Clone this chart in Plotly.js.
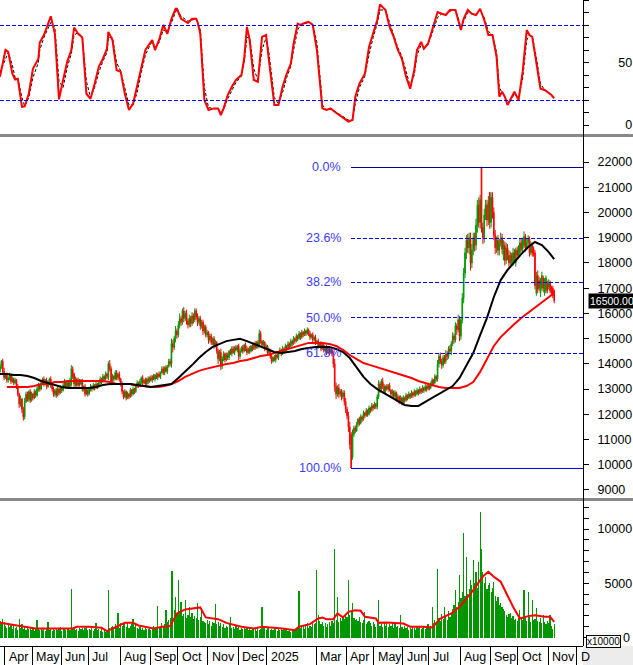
<!DOCTYPE html>
<html><head><meta charset="utf-8">
<script src="https://cdn.plot.ly/plotly-3.0.1.min.js"></script>
<style>html,body{margin:0;padding:0;background:#fff}#chart{width:633px;height:665px}</style>
</head><body><div id="chart"></div>
<script>
// ---------- DATA ----------
// month labels on the date strip and the trading-day index of each month's first session
const monthLabels = ["Apr","May","Jun","Jul","Aug","Sep","Oct","Nov","Dec","2025","Mar","Apr","May","Jun","Jul","Aug","Sep","Oct","Nov","D"];
const monthStartDay = [4,24,45,65,88,110,130,152,174,195,231,253,273,294,313,336,358,378,400,421];

// daily open / close prices, in hundreds of VND
const openH = [
137,139,141,137,134.5,135.5,133.5,134,135.5,133,
134,132.5,133.5,131,128,124,126,122,119,125,
128,126,129,125.5,128,126.5,129,127.5,130,131.5,
130,132.5,134,132,133.5,131,132.5,134,131.5,130,
128,129.5,127.5,130,128.5,130.5,129.5,131.5,133,131,
132.5,131,132,138,136,132,134,131.5,133.5,132,
133,130,131,128,129.5,128,130,131,130,131.5,
130.5,132,131,132.5,134,133,135,134,136,134.5,
140,138,133,135,134,136.5,134.5,136,134,132,
129,127,129,126.5,128,127,129.5,128,130,129,
131,132.5,131.5,133,134.5,132.5,133.5,132,134,133,
134.5,133.5,135,134,135.5,134.5,136,135,136.5,138,
136.5,138.5,137,139,141,140,148,146.5,150,153,
151.5,155.5,158,156.5,161,158,160,157,155.5,158,
156,159,157.5,161,158.5,156.5,158,155,156.5,153,
154.5,151.5,152.5,149.5,151,148.5,150,147.5,148.5,145,
142,144.5,139,142,144,141.5,143.5,142.5,145,144,
146,144.5,146.5,145.5,147,143,145,146.5,145,147.5,
146,144.5,146,145,147,146,148,146.5,148.5,147,
152,149,147.5,148.5,146,147,144.5,145.5,143,141,
142.5,141.5,143.5,142.5,144.5,145.5,144,146,145,147,
146,148,147,149,148,150,149,151,150,152,
150.5,152.5,151.5,153,152,153.5,152,150.5,151.5,149.5,
150.5,148.5,149,147,148,146,147.5,145.5,146.5,144.5,
146,144.5,145.5,144,140,131,128,130.5,128,129,
127,128.5,125,122,119.5,115,112,103,112,114.5,
113.5,116,118,116.5,119,118,120.5,119.5,121.5,120,
122.5,121.5,123.5,122.5,124,123,127,132,130,133,
131,129,131,130,131.5,129.5,128,129,127,128.5,
126,127,125,126.5,124.5,126.5,125.5,127.5,126.5,128,
127,128.5,127.5,129,128,129.5,128.5,130,129,130.5,
129.5,131,130,131.5,130.5,132,133.5,132.5,135,134,
140,143,141,139.5,142.5,141,144,143,146,145,
148,151,149.5,155,153.5,157.5,151,157.5,166,176,
184,189,186,190,180,185,190,187,195,203,
196,218,194,190,199,203,197,208,196,206,
200,191,186,189,185,188,190,183,187,181,
186,183,180,183,180,184,180,185,183,184,
188,185.5,187,190.5,186,188,189.5,184,187,185.5,
184,168,175,173,168,170,174,168,169,172,
170.5,172,170,170,169];
const closeH = [
139,141,137,134.5,135.5,133.5,134.5,135.5,133,134,
132.5,133.5,131,128,124,126,122,119,125,128,
126,129,125.5,128,126.5,129,127.5,130,131.5,130,
132.5,134,132,133.5,131,132.5,134,131.5,130,128,
129.5,127.5,130,128.5,130.5,129.5,131.5,133,131,132.5,
131,133.5,138,135,132,134,131.5,133.5,132,133,
130,131,128,129.5,128,130,131,130,131.5,130.5,
132,131,132.5,134,133,135,134,136,135,140,
138,133,135,134,136.5,134.5,136,134,132,129,
127,129,126.5,128,127,129.5,128,130,129,131,
132.5,131.5,133,134.5,132.5,133.5,132,134,133,134.5,
133.5,135,134,135.5,134.5,136,135,136.5,138,136.5,
138.5,137,139,141,140,148,146.5,150,153,151.5,
155.5,158,156.5,161,158,160,157,155.5,158,156,
159,157.5,161,158.5,156.5,158,155,156.5,153,154.5,
151.5,152.5,149.5,151,148.5,150,147.5,148.5,145,142,
144.5,139,142,144,141.5,143.5,142.5,145,144,146,
144.5,146.5,145.5,147,143,145,146.5,145,147.5,146,
144.5,146,145,147,146,148,146.5,148.5,147,152,
149,147.5,148.5,146,147,144.5,145.5,143,141,142.5,
141.5,143.5,142.5,144.5,145.5,144,146,145,147,146,
148,147,149,148,150,149,151,150,152,150.5,
152.5,151.5,153,152,153.5,152,150.5,151.5,149.5,150.5,
148.5,149,147,148,146,147.5,145.5,146.5,144.5,146,
144.5,145.5,144,140,131,128,130.5,128,129,127,
128.5,125,122,119.5,115,108,98.7,112,114.5,113.5,
116,118,116.5,119,118,120.5,119.5,121.5,120,122.5,
121.5,123.5,122.5,124,123,127,132,130,133,131,
129,131,130,131.5,129.5,128,129,127,128.5,126,
127,125,126.5,124.5,126.5,125.5,127.5,126.5,128,127,
128.5,127.5,129,128,129.5,128.5,130,129,130.5,129.5,
131,130,131.5,130.5,132,133.5,132.5,135,134,140,
143,141,139.5,142.5,141,144,143,146,145,148,
151,149.5,155,153.5,157.5,151,157.5,166,176,184,
189,186,190,180,185,190,187,195,203,196,
205,194,190,199,203,197,204,196,206,200,
191,186,189,185,188,190,185.5,187,181,186,
183,180,183,181,184,182,185,183,186,188,
185.5,189,190.5,186,188,189.5,184,187,184,183.5,
171,175,169.5,170,173,175,170,172.5,174,169,
172.5,169,168,167,165];
// upper and lower shadow lengths of each candle, in hundreds of VND
const upperShadowH = [
1,0.5,1,1.5,0.5,1,0.5,1,0.5,1,
0.5,1,0.5,1,0.5,1.5,0.5,1,1.5,1,
1,0.5,1,1,0.5,1,0.5,1,1,0.5,
1,0.5,1,0.5,1,1,0.5,1,0.5,1,
0.5,1,1,0.5,1,0.5,1,1,0.5,1,
0.5,1,1.5,1,0.5,1,0.5,1,0.5,1,
1,0.5,1,0.5,1,0.5,1,0.5,1,0.5,
1,0.5,1,1,0.5,1,0.5,1,0.5,1,
1.5,1,1,0.5,1,1,0.5,1,0.5,1,
0.5,1,0.5,1,0.5,1,0.5,1,0.5,1,
1,0.5,1,0.5,1,0.5,1,0.5,1,0.5,
1,0.5,1,0.5,1,0.5,1,0.5,1,1,
0.5,1,0.5,1,1,2,1.5,1,2,1,
1.5,2,1,1,1.5,1,1.5,1,1.5,1,
1.5,1,1,1,1.5,1,1,1,1,1,
1,1,0.5,1,1,0.5,1,1,0.5,1,
1,1.5,1,1,0.5,1,1,0.5,1,1,
1,0.5,1,0.5,1,1,0.5,1,0.5,1,
1,0.5,1,0.5,1,0.5,1,0.5,1,1.5,
1,0.5,1,0.5,1,0.5,1,0.5,1,0.5,
1,0.5,1,0.5,1,0.5,1,0.5,1,0.5,
1,0.5,1,0.5,1,0.5,1,0.5,1,0.5,
1,0.5,1,0.5,1,0.5,1,0.5,1,0.5,
1,0.5,1,0.5,1,0.5,1,0.5,1,0.5,
1,0.5,1,1,2,1.5,1,1.5,1,1,
1,1,1.5,1,1.5,2,1,2,1,1,
1,0.5,1,1,0.5,1,0.5,1,0.5,1,
0.5,1,0.5,1,0.5,1,1.5,1,1,1.5,
1,0.5,1,0.5,1,0.5,1,0.5,1,0.5,
1,0.5,1,0.5,1,0.5,1,0.5,1,0.5,
1,0.5,1,0.5,1,0.5,1,0.5,1,0.5,
1,0.5,1,0.5,1,1,0.5,1,0.5,1.5,
1,1.5,1,1,1,1.5,1,1,1.5,1,
1.5,1,1.5,1,2,1.5,1,2,2,2,
2,2.5,2,2,2.5,2,2,2.5,2,3,
2,0,2,2.5,2,2,2.5,0,2,2,
2,2,1.5,2,1.5,2,1.5,2,1.5,2,
1.5,2,1.5,1,2,1.5,1,1.5,1,1.5,
1.5,1,2,1,1.5,1.5,1,1.5,1,1,
1,1.5,2,1.5,1,1.5,1,1.5,1,1,
1,1,1,1,0.5];
const lowerShadowH = [
0.5,1,1,1,0.5,1,1,0.5,1,0.5,
1,0.5,1,1,1.5,1,1.5,1.5,1,0.5,
1,1,1,0.5,1,0.5,1,0.5,1,1,
0.5,1,1,0.5,1,0.5,1,1,1,1,
1,1,0.5,1,0.5,1,0.5,1,1,0.5,
1,0.5,1,1,1.5,1,1,0.5,1,0.5,
1,1,1,0.5,1,0.5,1,1,0.5,1,
0.5,1,0.5,1,1,0.5,1,0.5,1,1,
1,1.5,1,1,0.5,1,1,1,1,1,
1,0.5,1,0.5,1,0.5,1,0.5,1,0.5,
0.5,1,0.5,1,1,0.5,1,0.5,1,0.5,
0.5,1,0.5,1,0.5,1,0.5,1,0.5,1,
1,0.5,1,0.5,1,1.5,2,1,1.5,1.5,
1,1.5,1.5,1,1.5,1,1.5,1.5,1,1.5,
1,1.5,1,1,1.5,1,1.5,1,1.5,1,
1,1,1.5,1,1,1,1.5,1,1,2,
1,1.5,1,1,1,0.5,1,1,0.5,1,
0.5,1,0.5,1,1.5,1,0.5,1,0.5,1,
1,0.5,1,0.5,1,0.5,1,0.5,1,0.5,
1,1,0.5,1,0.5,1,0.5,1,1,0.5,
0.5,1,0.5,1,0.5,1,0.5,1,0.5,1,
0.5,1,0.5,1,0.5,1,0.5,1,0.5,1,
0.5,1,0.5,1,0.5,1,1,0.5,1,0.5,
1,0.5,1,0.5,1,0.5,1,0.5,1,0.5,
1,0.5,1,1.5,2,2,1,1.5,1,1.5,
1,1.5,1.5,1.5,2,2,0,1,1,1,
0.5,1,1,0.5,1,0.5,1,0.5,1,0.5,
1,0.5,1,0.5,1,1,1,1.5,1,1,
1,1,0.5,1,0.5,1,1,0.5,1,1,
0.5,1,0.5,1,0.5,1,0.5,1,0.5,1,
0.5,1,0.5,1,0.5,1,0.5,1,0.5,1,
0.5,1,0.5,1,0.5,1,1,0.5,1,1,
1.5,1,1.5,1,1,1,1.5,1,1,1.5,
1,1.5,1,2,1,2,1.5,1.5,2,2,
2.5,2,2.5,3,2,2,2.5,2,3,2,
2.5,2,2.5,2,2,2.5,2,2.5,2,2.5,
2,2.5,2,2,2,1.5,2,2,2,1.5,
2,1.5,1,2,1,1.5,1.5,1,1.5,1,
1,1.5,1,1.5,1,1,1.5,1,1.5,1,
1.5,1,1.5,1,1.5,1,1.5,1,1,1,
1,1,1,1,1];

// daily volume, in units of 10000 shares
const volume = [
1500,1200,1700,1400,1100,900,1300,1000,1200,800,
1100,900,1000,700,1660,900,1200,800,1000,700,
900,800,1000,700,850,600,900,1600,800,700,
800,650,900,600,750,1450,700,850,600,800,
700,900,650,800,1000,600,750,900,700,850,
800,700,4460,900,1000,700,800,600,900,750,
850,700,900,1100,650,800,700,900,600,800,
1350,700,800,600,750,500,650,550,600,4370,
900,1000,1100,800,1200,1000,2215,900,1300,1100,
1200,1450,1000,1300,900,1100,1200,1750,1000,1200,
900,800,1000,700,850,650,900,750,800,1000,
700,900,1100,800,1000,2900,900,1100,1300,1000,
1200,2520,1400,1600,1800,6120,6120,2500,3750,2200,
5290,2400,3290,2000,2200,3450,1800,2100,2830,1900,
2300,1700,2000,1800,3140,1600,1900,2520,1500,1400,
1300,1600,1200,1500,1100,1400,1300,3080,1200,1400,
1100,1300,1000,1200,900,1100,1000,1200,1900,900,
1000,800,1100,900,1000,700,900,800,1000,750,
850,700,900,650,800,750,900,600,850,700,
800,2770,900,1000,700,850,900,650,800,700,
750,900,600,800,700,850,650,800,700,900,
600,700,550,650,700,600,800,750,4310,900,
1000,1100,800,1200,1300,900,1100,1000,1400,1200,
1300,6215,2060,1500,1200,1400,1100,1300,1000,1200,
1400,1100,1500,1300,8120,1600,3750,1400,1800,1500,
2000,1700,2200,1900,5290,2100,2400,3140,1800,1600,
1700,1500,1900,1400,1300,1600,2370,1200,1400,1500,
1300,1100,1400,1200,1000,1300,3450,1100,1200,1000,
1300,1100,1400,1000,1200,1100,1300,900,1200,1000,
1100,900,2060,1000,800,1100,900,1000,700,900,
800,1000,900,700,1100,850,1000,750,900,1100,
800,950,1200,900,1100,2830,1300,1600,1400,6280,
1800,1500,2200,1700,2830,2000,1600,2400,1900,2200,
2600,3000,4370,2800,3300,5750,3600,4200,9600,3800,
7450,4000,4500,5290,4800,7140,5000,6060,4600,6980,
11600,8120,6060,5000,5600,4500,4800,4980,4200,4600,
5140,3800,3400,3750,3000,3200,2830,2600,2400,2060,
1900,2200,2215,1800,2000,1600,1700,1500,1800,2520,
1700,1600,4370,1800,1500,4220,1900,1400,3450,1600,
1700,2680,1500,1400,1800,1300,2060,1400,1200,1500,
1300,2060,1100,830,1200];

// moving averages (black = short MA, red = long MA)
const maBlackDay = [0,5,10,15,20,25,30,35,40,45,50,55,60,65,70,75,80,85,90,95,100,105,110,115,120,125,130,135,140,145,150,155,160,165,170,175,180,185,190,195,200,205,210,215,220,225,230,235,240,245,250,255,260,265,270,275,280,285,290,295,300,305,310,315,320,325,330,335,340,345,350,355,360,365,370,375,380,385,390,395,400,404];
const maBlack = [13600,13600,13560,13560,13520,13440,13320,13240,13160,13080,13040,13040,13040,13040,13080,13160,13200,13200,13200,13200,13160,13120,13080,13120,13160,13200,13440,13680,13950,14230,14470,14670,14790,14900,14950,14990,14900,14790,14670,14550,14470,14430,14470,14510,14590,14630,14670,14670,14670,14590,14470,14230,13840,13480,13200,13000,12840,12690,12530,12370,12330,12330,12490,12650,12800,12960,13120,13440,13910,14430,15140,15820,16650,17320,17720,18040,18350,18630,18830,18710,18430,18150];
const maRedDay = [5,10,15,20,25,30,35,40,45,50,55,60,65,70,75,80,85,90,95,100,105,110,115,120,125,130,135,140,145,150,155,160,165,170,175,180,185,190,195,200,205,210,215,220,225,230,235,240,245,250,255,260,265,270,275,280,285,290,295,300,305,310,315,320,325,330,335,340,345,350,355,360,365,370,375,380,385,390,395,400,404];
const maRed = [13080,13080,13080,13080,13120,13200,13200,13280,13280,13320,13320,13320,13320,13320,13320,13280,13200,13200,13200,13120,13120,13080,13080,13120,13200,13320,13480,13600,13720,13800,13870,13950,13990,14030,14110,14150,14230,14310,14350,14430,14510,14590,14670,14750,14830,14830,14830,14790,14710,14550,14350,14190,14030,13950,13870,13760,13680,13600,13520,13440,13320,13240,13160,13080,13040,13040,13040,13120,13280,13680,14190,14710,15060,15340,15580,15820,16020,16250,16450,16650,16810];

// volume moving average
const volMaDay = [0,9,18,26,44,53,56,65,74,78,85,91,97,101,112,118,124,129,135,143,146,150,159,165,176,185,191,206,215,218,226,232,235,238,243,246,250,254,259,263,266,274,276,282,294,299,309,315,321,329,335,341,346,350,353,356,360,365,369,374,379,385,390,397,401,404];
const volMa = [1350,1140,990,830,830,830,990,990,890,590,990,1350,1350,1110,830,990,1050,2220,2590,2680,2770,1850,1690,1350,990,830,990,830,680,990,1230,1750,1850,1690,1690,2220,1850,2370,2520,2460,1910,1750,1350,1390,1290,990,990,920,1750,2220,2830,3750,4520,5290,5750,6060,5600,5140,4060,2830,1750,1970,2060,1910,1910,1450];

// stochastic oscillator (%K red, %D black dashed)
const stochDay = [0,4,6,9,11,13,16,18,21,24,28,29,32,37,40,43,46,49,52,54,57,60,63,66,69,72,75,78,79,82,85,88,91,94,97,100,103,106,109,111,113,116,119,122,125,128,129,132,137,140,143,144,146,149,152,156,159,161,163,166,169,172,176,178,180,182,185,188,191,194,196,198,200,203,206,209,212,214,217,219,222,225,228,231,234,235,238,241,244,247,251,254,257,259,262,266,269,272,275,277,281,284,287,290,293,296,299,302,304,307,309,312,315,319,322,325,328,332,334,336,338,341,344,347,350,353,356,359,362,364,366,368,370,372,375,378,381,384,386,388,391,394,397,399,402,404];
const stochK = [38.6,60,58.5,41,36.4,37,14.6,15,25,45,53,66,72,87,73,20.5,36,50.5,60,78,73,70,25,21,33,46.5,53,61,74.5,68,44,42.5,25,12,17,30.6,46.5,60,65,68,60,68,80,73,85,93,93,85,81.6,85,85,82.5,73,20,12,13.3,13.3,8,13.3,24,30.6,36,40,53,78.5,68,36,34.6,70.5,72,52,36,16,16,30.6,41,49,65,81,80,81.6,82.5,80,60,22.6,13.3,12,13.3,10.6,8,5.3,2.7,4,22.6,33,41,62.5,73,84,96.5,92,78.5,70.5,60,53,38.6,29,44,60,66.5,61,65,76,90.4,89,88,92,92,84,76,85,92,89,88,93,84,72,72,54.5,22.6,26.6,22.6,16,20,26.6,20,42.5,76,72,70.5,49,29,28,26.6,24,21.3];
const stochD = [42,52,58,48,38,37,22,15,22,38,50,60,70,82,78,35,30,46,57,72,74,70,35,22,30,42,51,58,70,70,50,43,30,16,16,26,42,56,63,67,62,66,76,75,82,91,93,87,83,84,85,83,76,30,14,13,13,10,12,21,28,34,39,50,70,70,45,36,60,70,58,40,22,17,26,38,47,60,76,80,81,82,81,66,30,16,12,13,11,9,6,4,4,17,30,39,56,70,81,92,92,82,73,62,55,42,31,40,56,64,62,64,73,86,89,88,91,92,86,78,83,90,89,88,92,86,75,72,58,30,26,23,17,19,25,21,37,68,72,71,54,33,28,27,24,22];
const stochLevels = [20, 80];
const stochTicks = [0,10,20,30,40,50,60,70,80,90,100];
const stochTickLabels = ["0","","","","","50","","","","",""];
const volTicks = [0,1000,2000,3000,4000,5000,6000,7000,8000,9000,10000,11000,12000];
const volTickLabels = ["0","","","","","5000","","","","","10000","",""];
const volUnitLabel = "x10000";
const fibRatios = [0, 0.236, 0.382, 0.5, 0.618, 1];
const fibLabels = ["0.0%","23.6%","38.2%","50.0%","61.8%","100.0%"];

// ---------- BUILD ----------
const GREEN = "#009600", RED = "#ff0000", FIBBLUE = "#3c3cff";
const FONT = "Liberation Sans, Arial, sans-serif";
const open = openH.map(v => v * 100);
const close = closeH.map(v => v * 100);
const high = open.map((o, i) => Math.max(o, close[i]) + upperShadowH[i] * 100);
const low = open.map((o, i) => Math.min(o, close[i]) - lowerShadowH[i] * 100);
const days = open.map((_, i) => i);
const volDays = volume.map((_, i) => i);
const X_MAX = 425;
const DASH = "4px,2px";

const hi = Math.max(...high), lo = Math.min(...low);
const loDay = low.indexOf(lo);
const lastClose = close[close.length - 1];
const pad5 = s => "\u00a0".repeat(2 * Math.max(0, 5 - s.length)) + s;

const traces = [
  {type:"scatter", mode:"lines", x:stochDay, y:stochD, xaxis:"x", yaxis:"y",
   line:{color:"#000", width:1, dash:"3px,2px"}, hoverinfo:"skip"},
  {type:"scatter", mode:"lines", x:stochDay, y:stochK, xaxis:"x", yaxis:"y",
   line:{color:RED, width:2}, hoverinfo:"skip"},
  {type:"candlestick", x:days, open:open, high:high, low:low, close:close, xaxis:"x", yaxis:"y2",
   increasing:{line:{color:GREEN, width:1}, fillcolor:GREEN},
   decreasing:{line:{color:RED, width:1}, fillcolor:RED}, whiskerwidth:0, hoverinfo:"skip"},
  {type:"scatter", mode:"lines", x:maRedDay, y:maRed, xaxis:"x", yaxis:"y2",
   line:{color:RED, width:2}, hoverinfo:"skip"},
  {type:"scatter", mode:"lines", x:maBlackDay, y:maBlack, xaxis:"x", yaxis:"y2",
   line:{color:"#000", width:2}, hoverinfo:"skip"},
  {type:"bar", x:volDays, y:volume, xaxis:"x", yaxis:"y3", width:0.85,
   marker:{color:GREEN, line:{width:0}}, hoverinfo:"skip"},
  {type:"scatter", mode:"lines", x:volMaDay, y:volMa, xaxis:"x", yaxis:"y3",
   line:{color:RED, width:2}, hoverinfo:"skip"}
];

const H = 646; // plot-area height in px (665 - bottom margin 19)
const py = px => (H - px) / H; // px from top of plot area -> paper y
const PX_W = 583;
const tickFont = {family:FONT, size:12.5, color:"#000"};

const shapes = [];
stochLevels.forEach(v => shapes.push({type:"line", xref:"paper", x0:0, x1:1, yref:"y", y0:v, y1:v,
  line:{color:"#0000ff", width:1, dash:DASH}}));
fibRatios.forEach((r) => {
  const lvl = hi - (hi - lo) * r;
  const solid = (r === 0 || r === 1);
  shapes.push({type:"line", xref:"x", x0:loDay, x1:X_MAX, yref:"y2", y0:lvl, y1:lvl,
    line:{color: r === 0 ? "#00008c" : "#0000ff", width:1, dash: solid ? "solid" : DASH}});
});
shapes.push({type:"rect", xref:"paper", x0:0, x1:640/PX_W, yref:"paper", y0:py(136.5), y1:py(133.5),
  fillcolor:"#8a8a8a", line:{width:0}});
shapes.push({type:"rect", xref:"paper", x0:0, x1:640/PX_W, yref:"paper", y0:py(501), y1:py(498),
  fillcolor:"#8a8a8a", line:{width:0}});
shapes.push({type:"line", xref:"paper", x0:1, x1:1, yref:"paper", y0:0, y1:1, line:{color:"#000", width:1}});
shapes.push({type:"rect", xref:"paper", x0:1, x1:640/PX_W, yref:"paper", y0:py(665), y1:0,
  fillcolor:"#ececec", line:{width:0}});
shapes.push({type:"line", xref:"paper", x0:0, x1:1, yref:"paper", y0:0, y1:0, line:{color:"#000", width:1}});

const annotations = [];
monthLabels.forEach((m, i) => annotations.push({xref:"x", x:monthStartDay[i] - 0.5, xanchor:"left", xshift:2,
  yref:"paper", y:py(657), yanchor:"middle", text:m, showarrow:false, font:tickFont}));
fibRatios.forEach((r, i) => annotations.push({xref:"x", x:loDay, xanchor:"right", xshift:-8,
  yref:"y2", y:hi - (hi - lo) * r, yanchor:"middle", text:fibLabels[i], showarrow:false,
  font:{family:FONT, size:12.5, color:FIBBLUE}}));
annotations.push({xref:"paper", x:588/PX_W, xanchor:"left", yref:"y2", y:lastClose, yanchor:"middle",
  text:lastClose.toFixed(2), showarrow:false, bgcolor:"#000", borderpad:1,
  font:{family:FONT, size:10.5, color:"#fff"}});
annotations.push({xref:"paper", x:586/PX_W, xanchor:"left", yref:"paper", y:py(641), yanchor:"middle",
  text:volUnitLabel, showarrow:false, bgcolor:"#fff", bordercolor:"#000", borderwidth:1, borderpad:0,
  font:{family:FONT, size:10, color:"#000"}});
annotations.push({xref:"paper", x:632/PX_W, xanchor:"right", yref:"y3", y:volTicks[0], yanchor:"middle",
  text:volTickLabels[0], showarrow:false, font:tickFont});

const yCommon = {side:"right", anchor:"x", showgrid:false, zeroline:false, showline:true,
  linecolor:"#000", linewidth:1, ticks:"outside", ticklen:5, tickcolor:"#000",
  tickfont:tickFont, ticklabelstandoff:6, fixedrange:true};

const layout = {
  width:633, height:665, margin:{l:0, r:50, t:0, b:19, pad:0},
  paper_bgcolor:"#fff", plot_bgcolor:"#fff", showlegend:false,
  font:{family:FONT, size:12.5, color:"#000"}, bargap:0,
  xaxis:{range:[0, X_MAX], anchor:"y3", showgrid:false, zeroline:false, showline:false,
    tickmode:"array", tickvals:monthStartDay.map(d => d - 0.5), ticks:"outside", ticklen:19,
    tickcolor:"#000", tickwidth:1, showticklabels:false, rangeslider:{visible:false}, fixedrange:true},
  yaxis:Object.assign({}, yCommon, {domain:[py(133), 1], range:[-6.4, 100], tickmode:"array",
    tickvals:stochTicks, ticktext:stochTickLabels.map(s => s ? pad5(s) : "")}),
  yaxis2:Object.assign({}, yCommon, {domain:[py(497), py(137)], range:[8722, 22991],
    tick0:0, dtick:1000, exponentformat:"none", separatethousands:false, tickformat:"d"}),
  yaxis3:Object.assign({}, yCommon, {domain:[0, py(502)], range:[-783, 12489], tickmode:"array",
    tickvals:volTicks, ticktext:volTickLabels.map((s, i) => (s && i > 0) ? pad5(s) : "")}),
  shapes:shapes, annotations:annotations
};

Plotly.newPlot("chart", traces, layout, {staticPlot:true, displayModeBar:false}).then(gd => {
  // keep the thin reference lines pixel-sharp
  gd.querySelectorAll(".shapelayer path").forEach(p => p.setAttribute("shape-rendering", "crispEdges"));
});
</script>
</body></html>
